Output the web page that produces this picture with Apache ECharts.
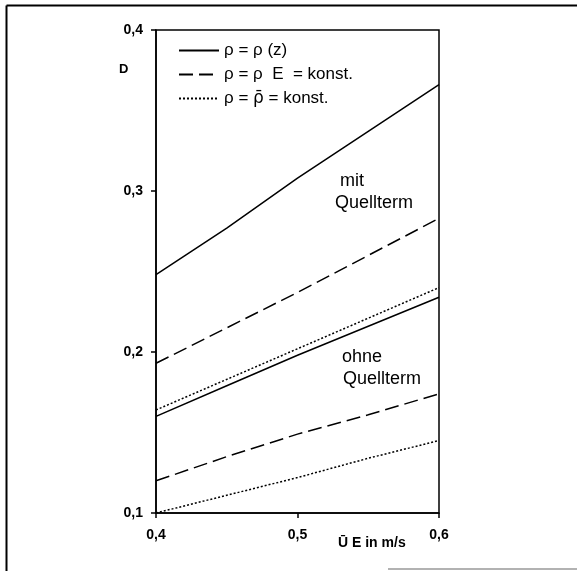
<!DOCTYPE html>
<html>
<head>
<meta charset="utf-8">
<script src="https://cdn.jsdelivr.net/npm/echarts@6/dist/echarts.min.js"></script>
<style>
  html, body { margin: 0; padding: 0; background: #fff; }
  #myChart { width: 577px; height: 571px; }
</style>
</head>
<body>
<div id="myChart"></div>
<script>
// Ū E in m/s
const uValues = [0.4, 0.45, 0.5, 0.55, 0.6];
const yTicks = [0.1, 0.2, 0.3, 0.4];
const xTicks = [0.4, 0.5, 0.6];

const legendNames = ['ρ = ρ (z)', 'ρ = ρ  E  = konst.', 'ρ = ρ\u0304 = konst.'];

// mit Quellterm
const mitVariabel = [0.248, 0.277, 0.308, 0.337, 0.366];
const mitRhoE = [0.193, 0.215, 0.237, 0.260, 0.283];
const mitRhoMittel = [0.164, 0.183, 0.202, 0.221, 0.240];

// ohne Quellterm
const ohneVariabel = [0.160, 0.179, 0.198, 0.216, 0.234];
const ohneRhoE = [0.120, 0.135, 0.149, 0.161, 0.174];
const ohneRhoMittel = [0.100, 0.111, 0.122, 0.134, 0.145];

const font = 'Liberation Sans, Arial, sans-serif';

function pairs (ys) {
  return uValues.map((u, i) => [u, ys[i]]);
}

function lineSeries (name, ys, type) {
  return {
    name: name,
    type: 'line',
    symbol: 'none',
    data: pairs(ys),
    lineStyle: { color: '#000', width: 1.5, type: type },
    itemStyle: { color: '#000' }
  };
}

const myChart = echarts.init(document.getElementById('myChart'));
myChart.setOption({
  animation: false,
  backgroundColor: '#fff',
  grid: {
    left: 156,
    right: 138,
    top: 30,
    bottom: 58,
    show: true,
    borderColor: '#000',
    borderWidth: 1.5
  },
  legend: {
    data: legendNames,
    orient: 'vertical',
    left: 173,
    top: 37,
    itemWidth: 40,
    itemHeight: 14,
    itemGap: 7,
    itemStyle: { opacity: 0 },
    formatter: function (name) {
      // Querstrich ueber rho mit DejaVu, das kann kombinierende Zeichen
      return name.replace('ρ\u0304', '{ov|ρ\u0304}');
    },
    textStyle: {
      color: '#000',
      fontSize: 17,
      fontFamily: font,
      rich: {
        ov: { fontFamily: 'DejaVu Sans', fontSize: 17, color: '#000' }
      }
    }
  },
  xAxis: {
    type: 'value',
    min: xTicks[0],
    max: xTicks[xTicks.length - 1],
    interval: 0.1,
    splitLine: { show: false },
    axisLine: { lineStyle: { color: '#000', width: 1.5 } },
    axisTick: { length: 5, lineStyle: { color: '#000', width: 1.5 } },
    axisLabel: {
      color: '#000',
      fontSize: 14,
      fontWeight: 'bold',
      fontFamily: font,
      margin: 15,
      formatter: v => v.toFixed(1).replace('.', ',')
    }
  },
  yAxis: {
    type: 'value',
    min: yTicks[0],
    max: yTicks[yTicks.length - 1],
    interval: 0.1,
    splitLine: { show: false },
    axisLine: { lineStyle: { color: '#000', width: 1.5 } },
    axisTick: { length: 5, lineStyle: { color: '#000', width: 1.5 } },
    axisLabel: {
      color: '#000',
      fontSize: 14,
      fontWeight: 'bold',
      fontFamily: font,
      margin: 13,
      formatter: v => v.toFixed(1).replace('.', ',')
    }
  },
  graphic: [
    // aeusserer Rahmen
    { type: 'line', shape: { x1: 6.5, y1: 5.5, x2: 6.5, y2: 571 }, style: { stroke: '#000', lineWidth: 2 } },
    { type: 'line', shape: { x1: 6.5, y1: 5.5, x2: 577, y2: 5.5 }, style: { stroke: '#000', lineWidth: 2 } },
    { type: 'line', shape: { x1: 388, y1: 569, x2: 577, y2: 569 }, style: { stroke: '#999', lineWidth: 1.5 } },
    { type: 'text', left: 119, top: 63, style: { text: 'D', fill: '#000', font: 'bold 13px ' + font } },
    { type: 'text', left: 338, top: 536, style: { text: 'Ū E in m/s', fill: '#000', font: 'bold 14px ' + font } },
    { type: 'text', left: 340, top: 172, style: { text: 'mit', fill: '#000', font: '18px ' + font } },
    { type: 'text', left: 335, top: 194, style: { text: 'Quellterm', fill: '#000', font: '18px ' + font } },
    { type: 'text', left: 342, top: 348, style: { text: 'ohne', fill: '#000', font: '18px ' + font } },
    { type: 'text', left: 343, top: 370, style: { text: 'Quellterm', fill: '#000', font: '18px ' + font } }
  ],
  series: [
    lineSeries(legendNames[0], mitVariabel, 'solid'),
    lineSeries(legendNames[1], mitRhoE, [14, 6]),
    lineSeries(legendNames[2], mitRhoMittel, [2, 2]),
    lineSeries(legendNames[0], ohneVariabel, 'solid'),
    lineSeries(legendNames[1], ohneRhoE, [14, 6]),
    lineSeries(legendNames[2], ohneRhoMittel, [2, 2])
  ]
});
</script>
</body>
</html>
